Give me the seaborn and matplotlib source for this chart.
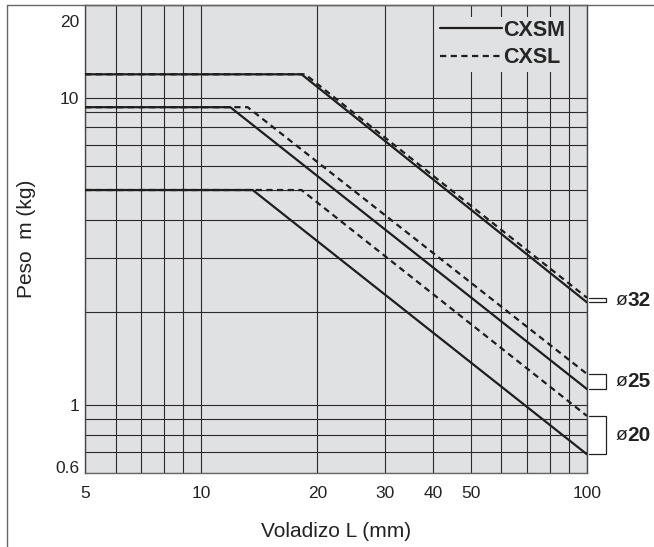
import numpy as np
import pandas as pd
import matplotlib
matplotlib.use('Agg')
import matplotlib.pyplot as plt
from matplotlib.lines import Line2D
from matplotlib.ticker import NullLocator
from matplotlib.transforms import blended_transform_factory, ScaledTranslation
import seaborn as sns

# Curve data: flat max load up to the knee, then falling to L=100 mm
bores = ['ø20', 'ø25', 'ø32']
bore_labels = ['20', '25', '32']
cxsm_knee = [13.6, 11.9, 18.2]
cxsm_max = [5.0, 9.3, 11.9]
cxsm_end = [0.69, 1.125, 2.155]
cxsl_knee = [18.2, 13.2, 18.6]
cxsl_max = [5.0, 9.3, 11.9]
cxsl_end = [0.92, 1.26, 2.23]
L_start, L_end = 5, 100

x_grid = [5, 6, 7, 8, 9, 10, 20, 30, 40, 50, 60, 70, 80, 90, 100]
x_labels = ['5', '', '', '', '', '10', '20', '30', '40', '50', '', '', '', '', '100']
y_grid = [0.6, 0.7, 0.8, 0.9, 1, 2, 3, 4, 5, 6, 7, 8, 9, 10, 20]
y_labels = ['0.6', '', '', '', '1', '', '', '', '', '', '', '', '', '10', '20']

BG = '#e0e1e3'
INK = '#1e1e1e'

sns.set_theme(style='white')
plt.rcParams['font.family'] = ['Liberation Sans', 'DejaVu Sans']

rows = []
for serie, knees, maxs, ends in [('CXSL', cxsl_knee, cxsl_max, cxsl_end),
                                 ('CXSM', cxsm_knee, cxsm_max, cxsm_end)]:
    for b, k, mx, e in zip(bores, knees, maxs, ends):
        rows.append({'serie': serie, 'bore': b, 'L': L_start, 'm': mx})
        rows.append({'serie': serie, 'bore': b, 'L': k, 'm': mx})
        rows.append({'serie': serie, 'bore': b, 'L': L_end, 'm': e})
df = pd.DataFrame(rows)

fig = plt.figure(figsize=(6.54, 5.47), dpi=100)
ax = fig.add_axes([85 / 654, 1 - 473 / 547, 502 / 654, 468 / 547])
ax.set_facecolor(BG)

dash = (0, (2.8, 2.0))
for serie, ls in [('CXSL', dash), ('CXSM', '-')]:
    sns.lineplot(data=df[df['serie'] == serie], x='L', y='m', units='bore',
                 estimator=None, sort=False, color=INK, linewidth=1.6,
                 linestyle=ls, legend=False, ax=ax, zorder=3)

ax.set_xscale('log')
ax.set_yscale('log')
ax.set_xlim(L_start, L_end)
ax.set_ylim(0.6, 20)
ax.set_xticks(x_grid)
ax.set_xticklabels(x_labels)
ax.set_yticks(y_grid)
ax.set_yticklabels(y_labels)
ax.xaxis.set_minor_locator(NullLocator())
ax.yaxis.set_minor_locator(NullLocator())
ax.tick_params(axis='both', length=0, labelsize=12.5, labelcolor='#222222')
ax.tick_params(axis='x', pad=9)
ax.tick_params(axis='y', pad=4)
ax.grid(True, color='#2a2a2a', linewidth=0.8)
ax.set_axisbelow(True)

# end labels of the y axis sit inside the range, like the original
ylabs = ax.get_yticklabels()
ylabs[-1].set_verticalalignment('top')
ylabs[-1].set_transform(ylabs[-1].get_transform() + ScaledTranslation(0, -7 / 72, fig.dpi_scale_trans))
ylabs[0].set_verticalalignment('bottom')
ylabs[0].set_transform(ylabs[0].get_transform() + ScaledTranslation(0, -2 / 72, fig.dpi_scale_trans))

for side, c in [('left', '#444444'), ('right', '#444444'), ('bottom', '#666666'), ('top', '#666666')]:
    ax.spines[side].set_visible(True)
    ax.spines[side].set_color(c)
    ax.spines[side].set_linewidth(1.0)

ax.set_xlabel('Voladizo L (mm)', fontsize=15, color='#222222')
ax.set_ylabel('Peso  m (kg)', fontsize=15, color='#222222')
ax.xaxis.set_label_coords(0.5, -0.105)
ax.yaxis.set_label_coords(-0.098, 0.5)

handles = [Line2D([], [], color=INK, lw=1.6, ls='-'),
           Line2D([], [], color=INK, lw=1.6, ls=dash)]
ax.legend(handles, ['CXSM', 'CXSL'], loc='upper right', bbox_to_anchor=(0.962, 0.975),
          prop={'weight': 'bold', 'size': 15.5}, handlelength=2.85, handletextpad=0.05,
          labelspacing=0.3, borderpad=0.15, borderaxespad=0, frameon=True,
          facecolor=BG, edgecolor='none', framealpha=1, fancybox=False)

# brackets and bore labels on the right, spanning CXSL/CXSM end values
tr = blended_transform_factory(ax.transAxes, ax.transData)
for lab, top, bot in zip(bore_labels, cxsl_end, cxsm_end):
    ax.plot([1.004, 1.037, 1.037, 1.004], [top, top, bot, bot], transform=tr,
            clip_on=False, color='#222222', lw=0.9)
    ymid = np.sqrt(top * bot)
    ax.text(1.057, ymid, 'ø', transform=tr, fontsize=14, va='center', ha='left', color='#222222')
    ax.text(1.081, ymid, lab, transform=tr, fontsize=15, fontweight='bold',
            va='center', ha='left', color='#222222')

# outer frame (left and top edges of the original box)
fig.add_artist(Line2D([7 / 654, 7 / 654, 1], [0, 1 - 5 / 547, 1 - 5 / 547],
                      transform=fig.transFigure, color='#666666', lw=1.0))

fig.savefig('out.png', dpi=100)
